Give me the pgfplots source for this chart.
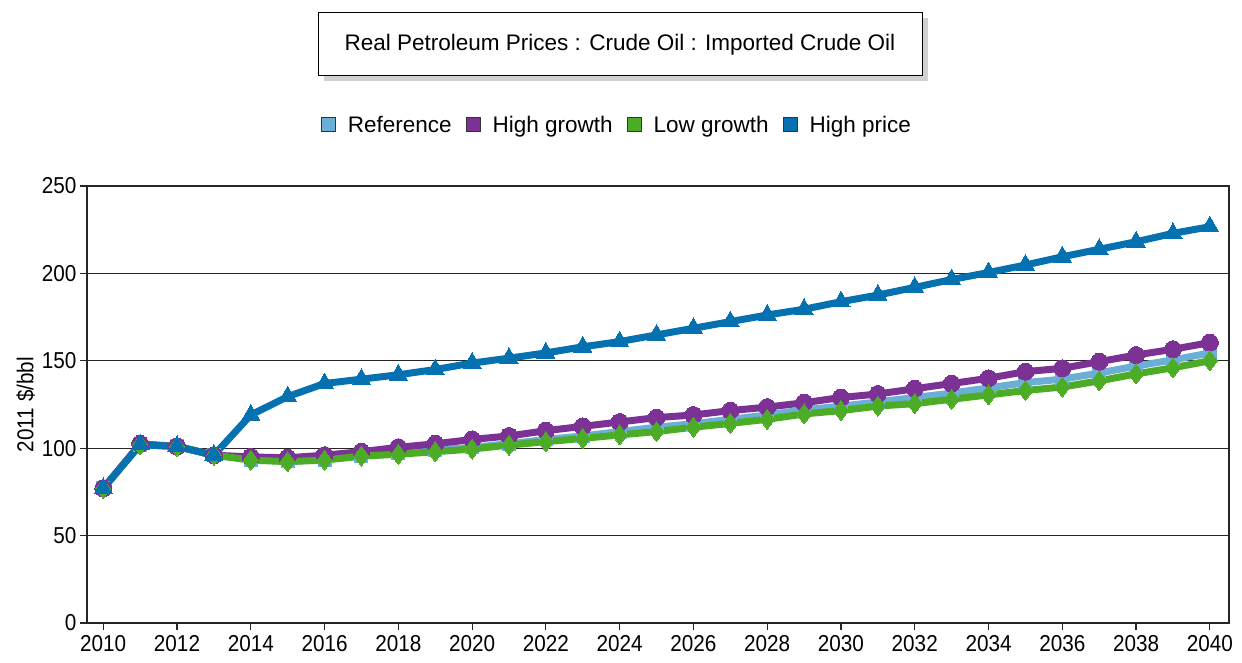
\documentclass[border=0pt]{standalone}
\usepackage{pgfplots}
\pgfplotsset{compat=1.18}
\usepackage{fontspec}
\setmainfont{Liberation Sans}
\newfontfamily\narrowfont{Liberation Sans}[FakeStretch=0.9]
\definecolor{refc}{HTML}{6BAED6}
\definecolor{hgc}{HTML}{7B3294}
\definecolor{lgc}{HTML}{4DAC26}
\definecolor{hpc}{HTML}{0571B0}
\pgfplotstableread{
year ref hg lg hp
2010 77 77 77 77
2011 102 102.5 102 102
2012 101 101 101 101
2013 96 96 96 96
2014 93.5 95 93.2 119
2015 92.5 94.5 92.3 129.5
2016 93.5 96 93.2 137
2017 95.5 98 95.5 139.5
2018 97 100.5 96.5 142
2019 99 102.5 98 145
2020 100.5 105 99.5 148.7
2021 102.5 107 101.8 151.5
2022 105 110 103.7 154.5
2023 107 112.5 105.6 158
2024 109.5 115 107.6 161
2025 112 117.5 109.5 164.8
2026 114 119 112 168.6
2027 116.5 121.5 114.2 172.4
2028 119 123.5 116.5 176.2
2029 122 126 119.6 179.5
2030 124 129 121.5 183.8
2031 126.5 131 124.1 187.6
2032 129 134 125.5 192
2033 131.5 137 128 196.5
2034 134.5 140 130.5 200.5
2035 137.5 143.8 133 204.8
2036 139.5 145.7 135 209.5
2037 143 149.5 138.5 213.8
2038 147 153.3 142.5 218.1
2039 150.5 156.6 146 222.9
2040 154.5 160.4 150 226.7
}\datatable
\begin{document}
\begin{tikzpicture}
\path[use as bounding box] (0pt,0pt) rectangle (1242pt,663pt);
\fill[black!18] (324pt,582pt) rectangle (928pt,645pt);
\node[draw=black, fill=white, line width=1pt, minimum width=604pt, minimum height=63pt, inner sep=0pt, font=\fontsize{22.5}{26}\selectfont] at (620pt,618.5pt) {Real Petroleum Prices : Crude Oil : Imported Crude Oil};
\begin{axis}[at={(87pt,40pt)}, anchor=south west, scale only axis, width=1142pt, height=437pt,
 xmin=2009.56, xmax=2040.52, ymin=0, ymax=250,
 xtick={2010,2012,...,2040}, ytick={0,50,...,250},
 ymajorgrids, grid style={black!85, line width=1.2pt},
 axis line style={black!85, line width=1.2pt},
 tick style={black!85, line width=1.2pt},
 tick align=outside, tick pos=left, major tick length=7pt,
 /pgf/number format/1000 sep={},
 /pgf/number format/assume math mode=true,
 tick label style={font=\narrowfont\fontsize{23}{24}\selectfont},
 xticklabel style={yshift=-2pt},
 ylabel={2011 \$/bbl}, ylabel style={font=\narrowfont\fontsize{23}{24}\selectfont},
 legend columns=4,
 legend style={at={(0.464,1.14)}, anchor=center, draw=none, fill=none,
   font=\fontsize{22.5}{24}\selectfont,
   /tikz/every even column/.append style={column sep=12pt},
   /tikz/every odd column/.append style={column sep=10pt}},
 every axis plot/.append style={line width=7pt, line join=round}
]
\addlegendimage{legend image code/.code={\draw[fill=refc, draw=black!80, line width=1pt] (0pt,-7pt) rectangle (14pt,7pt);}}
\addlegendimage{legend image code/.code={\draw[fill=hgc, draw=black!80, line width=1pt] (0pt,-7pt) rectangle (14pt,7pt);}}
\addlegendimage{legend image code/.code={\draw[fill=lgc, draw=black!80, line width=1pt] (0pt,-7pt) rectangle (14pt,7pt);}}
\addlegendimage{legend image code/.code={\draw[fill=hpc, draw=black!80, line width=1pt] (0pt,-7pt) rectangle (14pt,7pt);}}
\addplot[forget plot, color=refc, mark=square*, mark size=6.5pt, mark options={line width=0pt}] table[x=year,y=ref] {\datatable};
\addplot[forget plot, color=hgc, mark=*, mark size=8.5pt, mark options={line width=0pt}] table[x=year,y=hg] {\datatable};
\addplot[forget plot, color=lgc, mark=diamond*, mark size=10pt, mark options={line width=0pt}] table[x=year,y=lg] {\datatable};
\addplot[forget plot, color=hpc, mark=triangle*, mark size=10.5pt, mark options={line width=0pt}] table[x=year,y=hp] {\datatable};
\legend{Reference, High growth, Low growth, High price}
\end{axis}
\end{tikzpicture}
\end{document}
